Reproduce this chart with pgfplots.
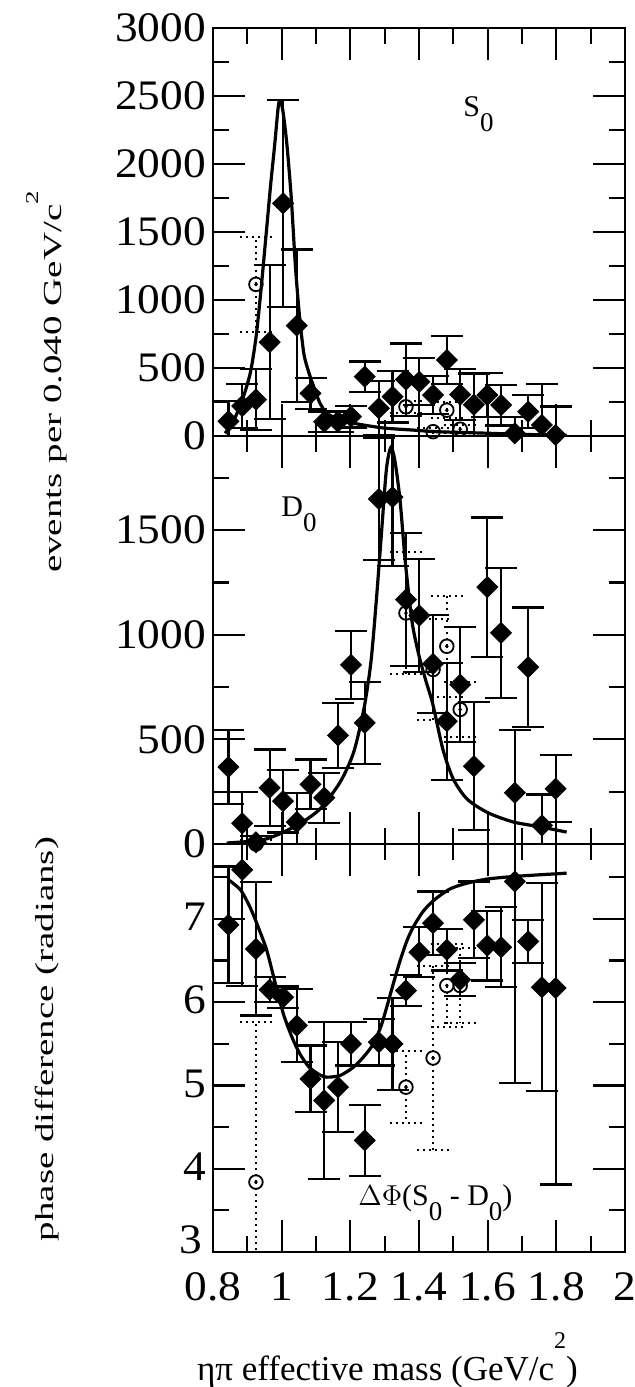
\documentclass[border=0pt]{standalone}
\usepackage{fontspec}
\setmainfont{Liberation Serif}
\newfontfamily\tickfont[FakeStretch=1.08]{Liberation Serif}
\newfontfamily\wideserif[FakeStretch=1.5]{Liberation Serif}
\usepackage{graphicx}
\usepackage{pgfplots}
\pgfplotsset{compat=1.18}
\usepackage{pgfplotstable}

\pgfplotstableread{
x y e
0.845 108 150
0.885 220 160
0.925 268 225
0.965 690 565
1.004 1711 760
1.044 812 560
1.084 314 115
1.124 105 75
1.164 105 75
1.202 142 80
1.242 436 112
1.283 204 200
1.323 289 190
1.362 415 265
1.401 399 172
1.441 301 140
1.481 559 176
1.520 305 190
1.560 230 230
1.599 301 160
1.639 228 150
1.679 20 120
1.718 179 120
1.758 81 300
1.798 7 210
}\SzeroD

\pgfplotstableread{
x y e
0.925 1115 350
1.362 215 45
1.441 32 30
1.481 190 60
1.520 50 30
}\SzeroC

\pgfplotstableread{
x y e
0.845 368 175
0.885 99 150
0.925 8 30
0.965 269 183
1.004 205 150
1.044 105 140
1.084 285 119
1.124 221 120
1.164 519 155
1.202 856 163
1.242 579 195
1.283 1649 290
1.323 1658 330
1.362 1168 318
1.401 1092 270
1.441 861 235
1.481 587 280
1.520 762 275
1.560 372 305
1.599 1228 333
1.639 1009 310
1.679 245 300
1.718 845 285
1.758 89 148
1.798 264 160
}\DzeroD

\pgfplotstableread{
x y e
0.925 0 20
1.362 1104 290
1.441 834 240
1.481 945 240
1.520 643 130
}\DzeroC

\pgfplotstableread{
x y e
0.845 6.93 0.70
0.885 7.59 1.40
0.925 6.64 0.80
0.965 6.15 0.15
1.004 6.06 0.13
1.044 5.72 0.44
1.084 5.08 0.40
1.124 4.82 0.94
1.164 4.98 0.54
1.202 5.50 0.26
1.242 4.34 0.43
1.283 5.52 0.28
1.323 5.50 0.55
1.362 6.14 0.19
1.401 6.60 0.30
1.441 6.95 0.38
1.481 6.63 0.25
1.520 6.27 0.20
1.560 6.99 0.46
1.599 6.68 0.42
1.639 6.66 0.48
1.679 7.45 2.42
1.718 6.73 0.26
1.758 6.18 1.25
1.798 6.17 2.36
}\PhiD

\pgfplotstableread{
x y e
0.925 3.84 1.92
1.362 4.98 0.43
1.441 5.33 1.10
1.481 6.20 0.50
1.520 6.20 0.45
}\PhiC

\pgfplotsset{
  panel/.style={
    width=206pt, height=204pt, scale only axis,
    xmin=0.8, xmax=2,
    xtick={0.8,1,1.2,1.4,1.6,1.8,2},
    minor xtick={0.9,1.1,1.3,1.5,1.7,1.9},
    tick align=inside, xtick pos=both, ytick pos=both,
    major tick length=16pt, minor tick length=8pt,
    every tick/.style={black, line width=1.1pt},
    axis line style={line width=1.4pt},
    tick label style={font=\tickfont\fontsize{21}{21}\selectfont},
    xticklabel style={anchor=base, yshift=-24pt},
    /pgf/number format/assume math mode=true,
    /pgf/number format/1000 sep={},
    scaled ticks=false,
    anchor=south west,
  },
  diam/.style={black, only marks, mark=square*, mark size=3.7pt,
    mark options={rotate=45, fill=black, solid, line width=0.4pt},
    error bars/.cd, y dir=both, y explicit,
    error bar style={line width=1.1pt, solid},
    error mark options={line width=1.1pt, mark size=8pt, rotate=90, solid}},
  circ/.style={black, only marks, mark=o, mark size=3.4pt,
    mark options={line width=0.9pt, solid},
    error bars/.cd, y dir=both, y explicit,
    error bar style={line width=1pt, dotted},
    error mark options={line width=1pt, mark size=8pt, rotate=90, dotted}},
  cdot/.style={black, only marks, mark=*, mark size=0.7pt},
  fit/.style={black, line width=1.6pt, smooth, tension=0.45, no markers},
}

\newcommand{\sub}[1]{\raisebox{-0.5em}{\fontsize{13.5}{13.5}\selectfont #1}}

\begin{document}
\begin{tikzpicture}
% ---------- top panel: S0 ----------
\begin{axis}[panel, at={(106.5pt,-218pt)},
  ymin=0, ymax=3000, ytick={0,500,...,3000}, minor ytick={250,750,...,2750},
  xticklabels={}]
\addplot[fit] coordinates {
(0.835,20) (0.86,110) (0.89,300) (0.91,480) (0.926,740) (0.94,1080)
(0.955,1490) (0.968,1850) (0.98,2150) (0.99,2420) (0.995,2460) (1.003,2400)
(1.015,2150) (1.028,1750) (1.04,1250) (1.052,880) (1.065,600) (1.08,460)
(1.091,380) (1.11,250) (1.13,170) (1.16,130) (1.2,100) (1.24,80)
(1.3,58) (1.38,44) (1.45,32) (1.58,22) (1.7,12) (1.83,6)};
\addplot[circ] table[x=x,y=y,y error=e] {\SzeroC};
\addplot[cdot] table[x=x,y=y] {\SzeroC};
\addplot[diam] table[x=x,y=y,y error=e] {\SzeroD};
\node[anchor=base west, font=\fontsize{15}{15}\selectfont, inner sep=0pt]
  at (axis cs:1.528,2346) {S\sub{0}};
\end{axis}
% ---------- middle panel: D0 ----------
\begin{axis}[panel, at={(106.5pt,-422pt)},
  ymin=0, ymax=1950, ytick={0,500,1000,1500}, minor ytick={250,750,1250,1750},
  xticklabels={}]
\addplot[fit] coordinates {
(0.84,5) (0.95,22) (1.04,85) (1.11,165) (1.17,295) (1.21,440) (1.24,650)
(1.26,870) (1.275,1150) (1.29,1470) (1.305,1790) (1.318,1895) (1.33,1830)
(1.345,1640) (1.36,1350) (1.38,1060) (1.40,900) (1.42,780) (1.44,670)
(1.47,450) (1.50,310) (1.54,215) (1.60,150) (1.675,105) (1.75,83) (1.83,57)};
\addplot[circ] table[x=x,y=y,y error=e] {\DzeroC};
\addplot[cdot] table[x=x,y=y] {\DzeroC};
\addplot[diam] table[x=x,y=y,y error=e] {\DzeroD};
\node[anchor=base west, font=\fontsize{15}{15}\selectfont, inner sep=0pt]
  at (axis cs:0.998,1566) {D\sub{0}};
\end{axis}
% ---------- bottom panel: phase ----------
\begin{axis}[panel, at={(106.5pt,-626pt)},
  ymin=3, ymax=7.9, ytick={4,5,6,7}, minor ytick={3.5,4.5,5.5,6.5,7.5},
  extra y ticks={3},
  extra y tick style={yticklabel style={yshift=5pt, xshift=-2pt}},
  yticklabel style={yshift=1pt}]
\addplot[fit] coordinates {
(0.845,7.47) (0.88,7.35) (0.908,7.14) (0.93,6.92) (0.956,6.63) (0.98,6.25)
(1.005,5.86) (1.03,5.58) (1.053,5.38) (1.08,5.22) (1.11,5.13) (1.131,5.10)
(1.17,5.12) (1.209,5.22) (1.24,5.35) (1.267,5.50) (1.29,5.72) (1.306,5.94)
(1.325,6.22) (1.345,6.50) (1.365,6.74) (1.383,6.90) (1.41,7.08) (1.442,7.22)
(1.49,7.36) (1.54,7.43) (1.6,7.48) (1.675,7.51) (1.75,7.53) (1.83,7.55)};
\addplot[circ] table[x=x,y=y,y error=e] {\PhiC};
\addplot[cdot] table[x=x,y=y] {\PhiC};
\addplot[diam] table[x=x,y=y,y error=e] {\PhiD};
\node[anchor=base west, font=\fontsize{15}{15}\selectfont, inner sep=0pt]
  at (axis cs:1.222,3.56) {$\Delta\Phi$(S\sub{0} - D\sub{0})};
\end{axis}
% ---------- axis titles ----------
\node[rotate=90, inner sep=0pt] at (23.5pt,-191pt)
  {\wideserif\fontsize{13}{13}\selectfont events per 0.040 GeV/c\raisebox{0.9em}{\fontsize{9}{9}\selectfont 2}};
\node[rotate=90, inner sep=0pt] at (23.5pt,-519.5pt)
  {\wideserif\fontsize{13}{13}\selectfont phase difference (radians)};
\node[anchor=base, inner sep=0pt, font=\fontsize{17.5}{17.5}\selectfont] at (193.75pt,-690pt)
  {ηπ effective mass (GeV/c\raisebox{0.9em}{\fontsize{12}{12}\selectfont 2})};
\pgfresetboundingbox
\path[use as bounding box] (0pt,0pt) rectangle (317.5pt,-693.5pt);
\end{tikzpicture}
\end{document}
